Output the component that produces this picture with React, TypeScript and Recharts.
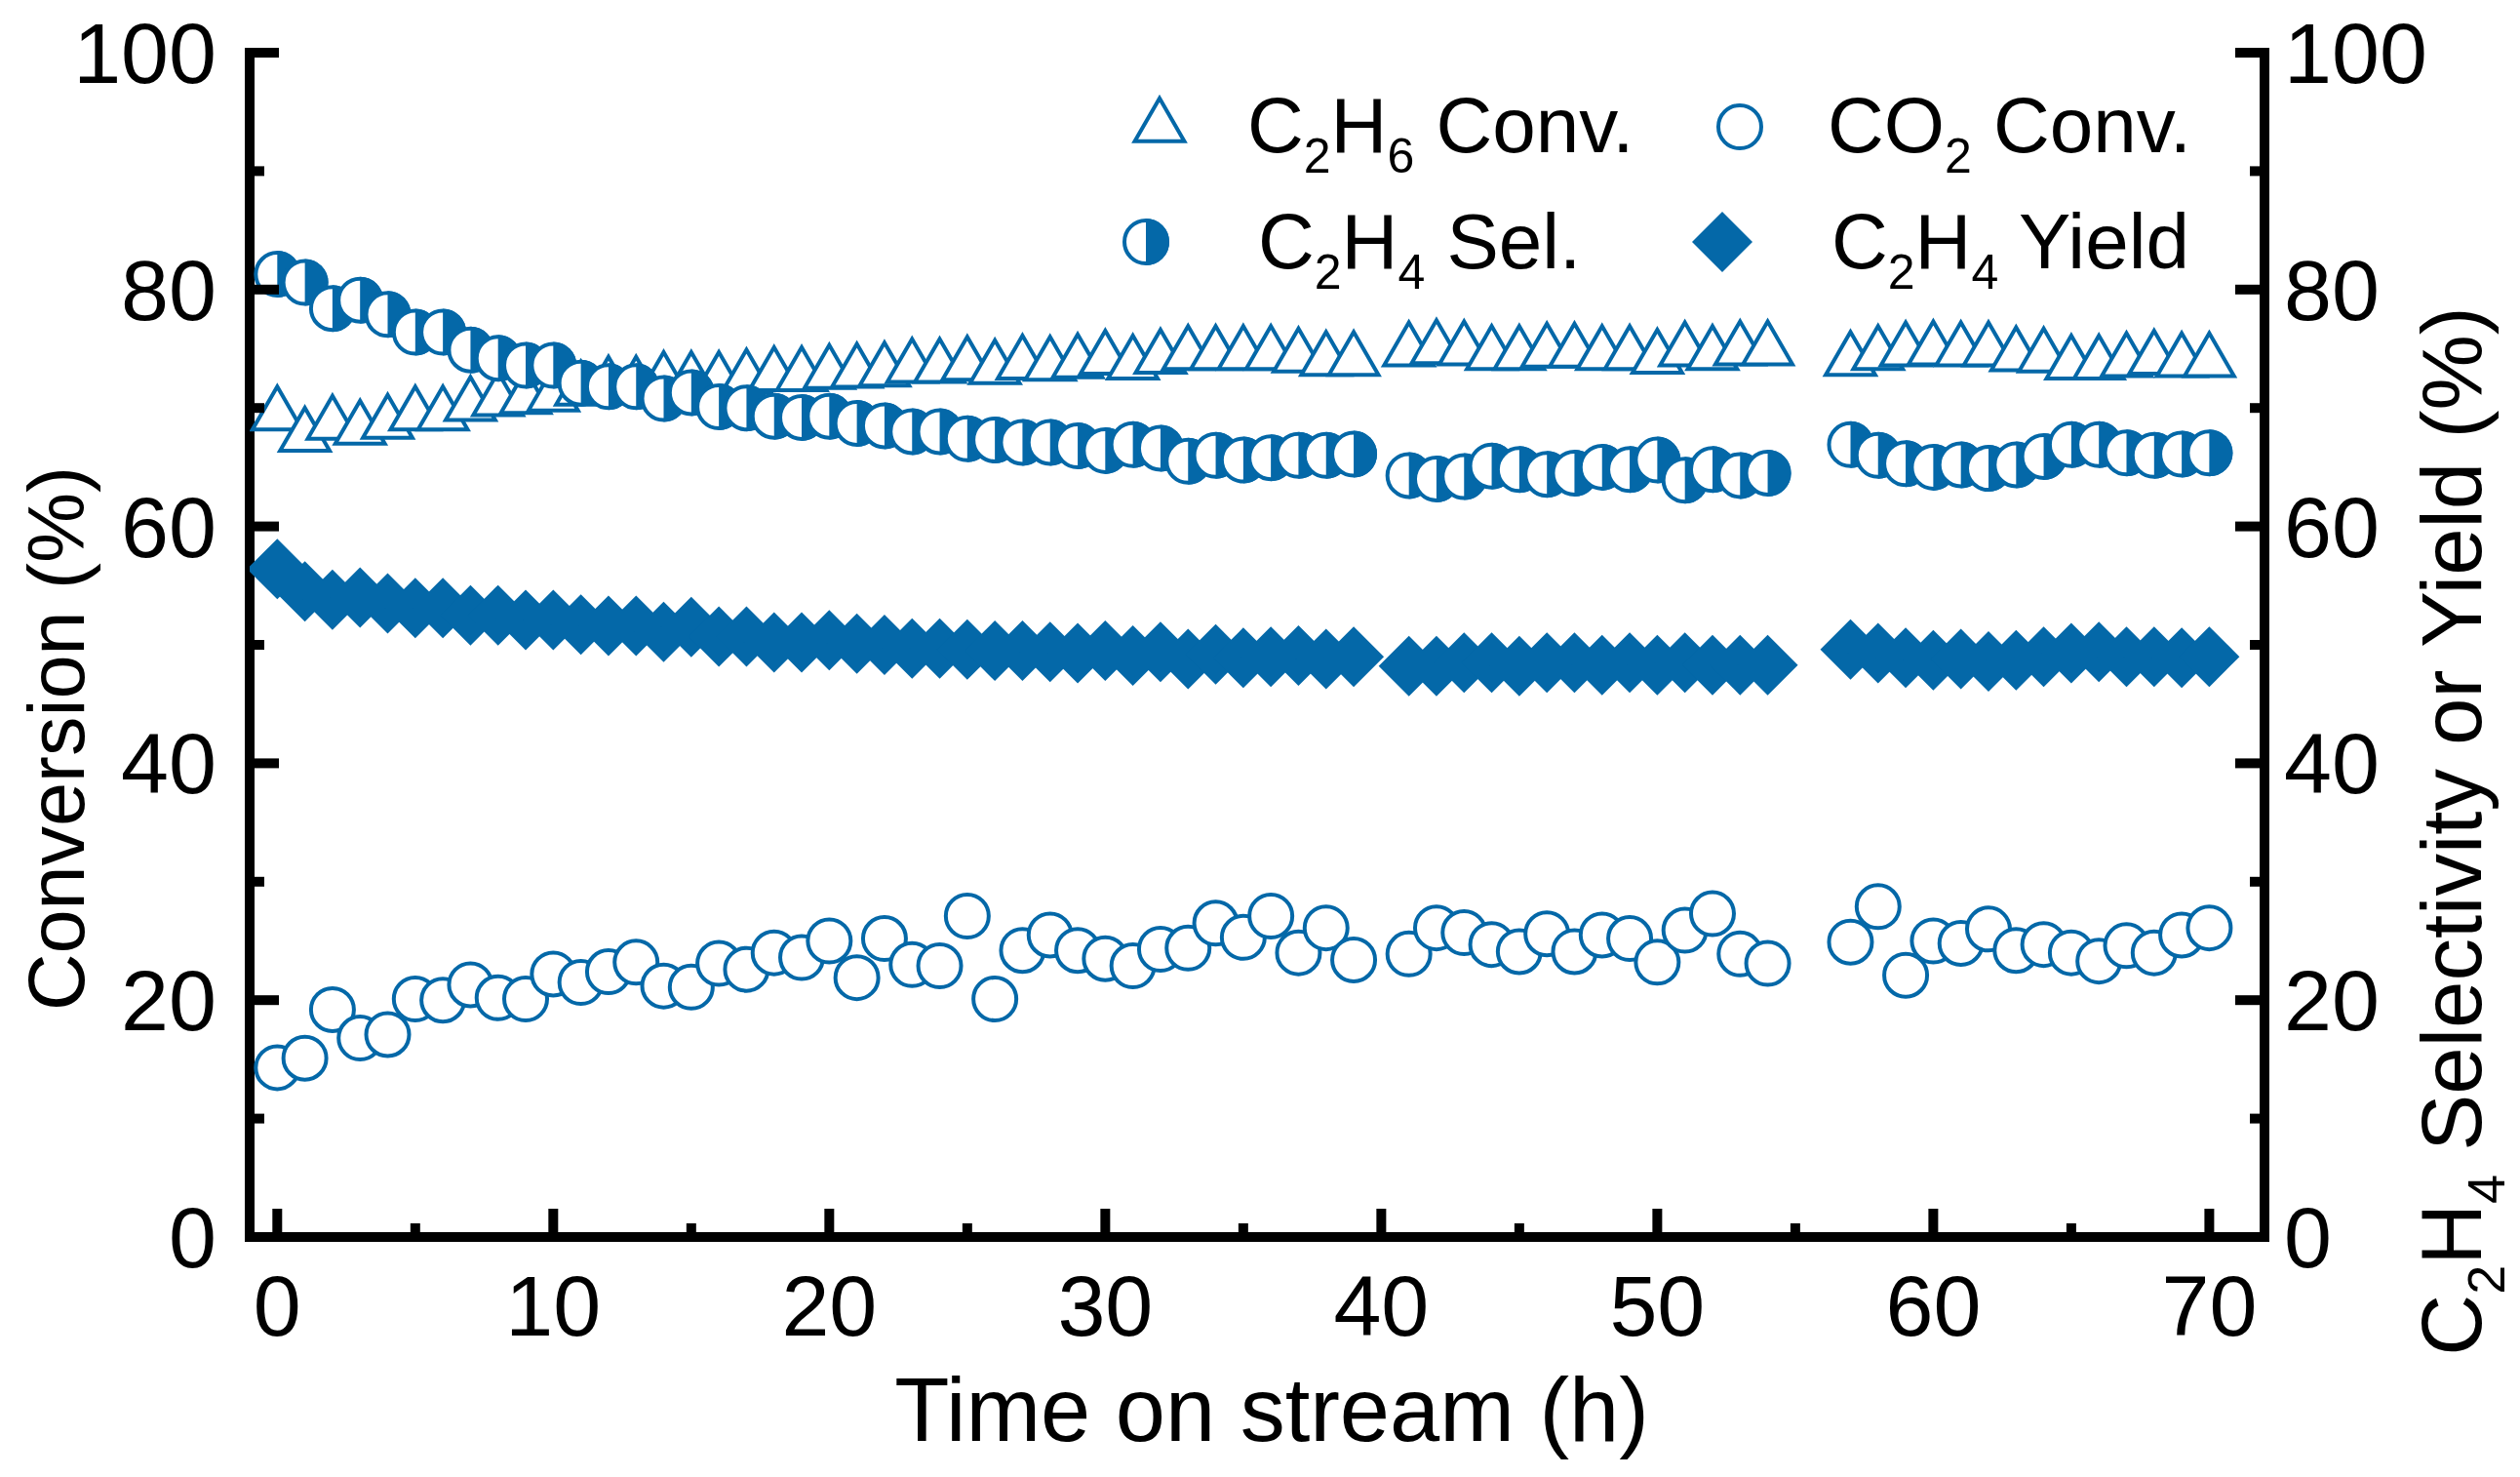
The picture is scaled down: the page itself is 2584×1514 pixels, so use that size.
import React from 'react';
import { ScatterChart, Scatter, XAxis, YAxis } from 'recharts';

// ---------- data ----------
const hours = [
  0, 1, 2, 3, 4, 5, 6, 7, 8, 9,
  10, 11, 12, 13, 14, 15, 16, 17, 18, 19,
  20, 21, 22, 23, 24, 25, 26, 27, 28, 29,
  30, 31, 32, 33, 34, 35, 36, 37, 38, 39,
  41, 42, 43, 44, 45, 46, 47, 48, 49, 50, 51, 52, 53, 54,
  57, 58, 59, 60, 61, 62, 63, 64, 65, 66, 67, 68, 69, 70,
];

const c2h6Conv = [
  69.4, 67.6, 68.6, 68.2, 68.7, 69.4, 69.4, 70.2, 70.6, 70.8,
  71.0, 71.5, 71.9, 71.9, 72.3, 72.3, 72.3, 72.5, 72.7, 72.7,
  72.9, 73.0, 73.1, 73.4, 73.4, 73.6, 73.3, 73.7, 73.6, 73.8,
  74.1, 73.7, 74.2, 74.5, 74.5, 74.5, 74.5, 74.3, 74.0, 74.0,
  74.8, 75.0, 74.9, 74.5, 74.5, 74.7, 74.7, 74.5, 74.5, 74.2, 74.8, 74.5, 74.9, 74.9,
  74.0, 74.5, 74.8, 74.9, 74.8, 74.8, 74.4, 74.3, 73.7, 73.7, 73.9, 74.1, 73.9, 73.9,
];

const co2Conv = [
  14.3, 15.1, 19.2, 16.8, 17.1, 20.1, 20.0, 21.3, 20.2, 20.1,
  22.2, 21.5, 22.4, 23.2, 21.2, 21.1, 23.1, 22.6, 24.0, 23.6,
  25.0, 21.9, 25.2, 23.0, 22.9, 27.1, 20.1, 24.2, 25.5, 24.2,
  23.5, 22.9, 24.3, 24.4, 26.5, 25.3, 27.1, 24.0, 26.1, 23.4,
  23.9, 26.1, 25.7, 24.7, 24.1, 25.6, 24.1, 25.5, 25.2, 23.2, 25.9, 27.3, 23.9, 23.1,
  24.9, 27.9, 22.1, 25.0, 24.8, 26.0, 24.2, 24.7, 24.0, 23.3, 24.6, 24.0, 25.5, 26.1,
];

const c2h4Sel = [
  81.3, 80.6, 78.4, 79.1, 77.9, 76.4, 76.4, 74.9, 74.2, 73.6,
  73.6, 72.1, 71.8, 71.8, 70.8, 71.3, 70.1, 70.0, 69.3, 69.2,
  69.3, 68.7, 68.5, 68.0, 68.0, 67.4, 67.3, 67.1, 67.1, 66.8,
  66.4, 66.9, 66.6, 65.5, 66.0, 65.6, 65.8, 66.0, 66.0, 66.1,
  64.3, 64.0, 64.2, 65.1, 64.8, 64.4, 64.5, 65.0, 64.8, 65.6, 63.9, 64.8, 64.3, 64.5,
  66.9, 66.0, 65.3, 65.0, 65.2, 64.9, 65.2, 65.9, 66.9, 66.9, 66.2, 66.0, 66.1, 66.2,
];

const c2h4Yield = [
  56.4, 54.5, 53.8, 54.0, 53.5, 53.1, 53.1, 52.5, 52.5, 52.1,
  52.1, 51.7, 51.6, 51.6, 51.1, 51.5, 50.7, 50.7, 50.2, 50.2,
  50.4, 50.1, 50.0, 49.7, 49.7, 49.6, 49.5, 49.5, 49.4, 49.3,
  49.5, 49.1, 49.4, 48.8, 49.2, 48.9, 49.0, 49.1, 48.8, 49.0,
  48.2, 48.2, 48.5, 48.5, 48.2, 48.5, 48.5, 48.3, 48.5, 48.3, 48.5, 48.3, 48.3, 48.3,
  49.6, 49.3, 48.9, 48.7, 48.8, 48.6, 48.7, 49.0, 49.3, 49.4, 49.0, 49.0, 48.9, 49.0,
];

const xTicks = [0, 5, 10, 15, 20, 25, 30, 35, 40, 45, 50, 55, 60, 65, 70];
const yTicks = [0, 10, 20, 30, 40, 50, 60, 70, 80, 90, 100];

const toPoints = (vals: number[]) => hours.map((h, i) => ({ x: h, y: vals[i] }));
const c2h6Data = toPoints(c2h6Conv);
const co2Data = toPoints(co2Conv);
const selData = toPoints(c2h4Sel);
const yieldData = toPoints(c2h4Yield);

// ---------- style ----------
const BLUE = '#0468A8';
const FONT = '"Liberation Sans", Arial, Helvetica, sans-serif';
const W = 2584;
const H = 1514;

// ---------- marker shapes ----------
const TRI_H = 44;
const TRI_S = 50.8;
const CIRC_R = 22;
const DIA = 31;

const Triangle = ({ cx, cy }: any) => (
  <path
    d={`M${cx},${cy - (2 * TRI_H) / 3} L${cx + TRI_S / 2},${cy + TRI_H / 3} L${cx - TRI_S / 2},${cy + TRI_H / 3} Z`}
    fill="#fff"
    stroke={BLUE}
    strokeWidth={4}
    strokeLinejoin="miter"
  />
);

const OpenCircle = ({ cx, cy }: any) => (
  <circle cx={cx} cy={cy} r={CIRC_R} fill="#fff" stroke={BLUE} strokeWidth={4} />
);

const HalfCircle = ({ cx, cy }: any) => (
  <g>
    <circle cx={cx} cy={cy} r={CIRC_R} fill="#fff" stroke={BLUE} strokeWidth={4} />
    <path
      d={`M${cx},${cy - CIRC_R - 2} A${CIRC_R + 2},${CIRC_R + 2} 0 0 1 ${cx},${cy + CIRC_R + 2} Z`}
      fill={BLUE}
    />
  </g>
);

const Diamond = ({ cx, cy }: any) => (
  <path d={`M${cx},${cy - DIA} L${cx + DIA},${cy} L${cx},${cy + DIA} L${cx - DIA},${cy} Z`} fill={BLUE} />
);

// ---------- ticks ----------
const TICK_W = 10;

const XTick = (props: any) => {
  const { x, y, payload } = props;
  const v = payload.value;
  const major = v % 10 === 0;
  return (
    <g>
      <line x1={x} x2={x} y1={y} y2={y - (major ? 29 : 14)} stroke="#000" strokeWidth={TICK_W} />
      {major && (
        <text x={x} y={y + 101} textAnchor="middle" fontSize={88} fontFamily={FONT} fill="#000">
          {v}
        </text>
      )}
    </g>
  );
};

const LeftTick = (props: any) => {
  const { x, y, payload } = props;
  const v = payload.value;
  const major = v % 20 === 0;
  return (
    <g>
      <line x1={x} x2={x + (major ? 30 : 15)} y1={y} y2={y} stroke="#000" strokeWidth={TICK_W} />
      {major && (
        <text x={x - 34} y={y + 31} textAnchor="end" fontSize={88} fontFamily={FONT} fill="#000">
          {v}
        </text>
      )}
    </g>
  );
};

const RightTick = (props: any) => {
  const { x, y, payload } = props;
  const v = payload.value;
  const major = v % 20 === 0;
  return (
    <g>
      <line x1={x} x2={x - (major ? 30 : 15)} y1={y} y2={y} stroke="#000" strokeWidth={TICK_W} />
      {major && (
        <text x={x + 20} y={y + 31} textAnchor="start" fontSize={88} fontFamily={FONT} fill="#000">
          {v}
        </text>
      )}
    </g>
  );
};

const axisLineStyle = { stroke: '#000', strokeWidth: 10, strokeLinecap: 'square' as const };

// ---------- legend / formula text ----------
const LEG_FONT = 80;
const LEG_SUB = 50;
const LEG_DY = 21;

const Formula = ({ parts, x, y, size, sub, dy, anchor }: any) => {
  let shifted = false;
  return (
    <text x={x} y={y} fontSize={size} fontFamily={FONT} fill="#000" textAnchor={anchor || 'start'}>
      {parts.map((p: [string, boolean], i: number) => {
        let d = 0;
        if (p[1] && !shifted) {
          d = dy;
          shifted = true;
        } else if (!p[1] && shifted) {
          d = -dy;
          shifted = false;
        }
        return (
          <tspan key={i} dy={d} fontSize={p[1] ? sub : size}>
            {p[0]}
          </tspan>
        );
      })}
    </text>
  );
};

const legendC2H6: [string, boolean][] = [['C', false], ['2', true], ['H', false], ['6', true], [' Conv.', false]];
const legendCO2: [string, boolean][] = [['CO', false], ['2', true], [' Conv.', false]];
const legendSel: [string, boolean][] = [['C', false], ['2', true], ['H', false], ['4', true], [' Sel.', false]];
const legendYield: [string, boolean][] = [['C', false], ['2', true], ['H', false], ['4', true], [' Yield', false]];
const rightTitle: [string, boolean][] = [['C', false], ['2', true], ['H', false], ['4', true], [' Selectivity or Yield (%)', false]];

export default function App() {
  return (
    <div style={{ position: 'absolute', left: 0, top: 0, width: W, height: H, background: '#fff' }}>
      <ScatterChart width={W} height={H} margin={{ top: 54, right: 62, bottom: 86, left: 56 }}>
        <XAxis
          xAxisId="bottom"
          dataKey="x"
          type="number"
          domain={[-1, 72]}
          allowDataOverflow
          ticks={xTicks}
          interval={0}
          height={160}
          tickSize={0}
          tickMargin={0}
          tickLine={false}
          axisLine={axisLineStyle}
          tick={<XTick />}
        />
        <XAxis
          xAxisId="top"
          orientation="top"
          type="number"
          domain={[-1, 72]}
          allowDataOverflow
          height={0}
          tick={false}
          tickLine={false}
          axisLine={axisLineStyle}
        />
        <YAxis
          yAxisId="left"
          dataKey="y"
          type="number"
          domain={[0, 100]}
          allowDataOverflow
          ticks={yTicks}
          interval={0}
          width={200}
          tickSize={0}
          tickMargin={0}
          tickLine={false}
          axisLine={axisLineStyle}
          tick={<LeftTick />}
        />
        <YAxis
          yAxisId="right"
          orientation="right"
          dataKey="y"
          type="number"
          domain={[0, 100]}
          allowDataOverflow
          ticks={yTicks}
          interval={0}
          width={200}
          tickSize={0}
          tickMargin={0}
          tickLine={false}
          axisLine={axisLineStyle}
          tick={<RightTick />}
        />
        <Scatter name="C2H6 Conv." data={c2h6Data} xAxisId="bottom" yAxisId="left" shape={Triangle} isAnimationActive={false} />
        <Scatter name="CO2 Conv." data={co2Data} xAxisId="bottom" yAxisId="left" shape={OpenCircle} isAnimationActive={false} />
        <Scatter name="C2H4 Sel." data={selData} xAxisId="bottom" yAxisId="right" shape={HalfCircle} isAnimationActive={false} />
        <Scatter name="C2H4 Yield" data={yieldData} xAxisId="bottom" yAxisId="right" shape={Diamond} isAnimationActive={false} />

        {/* axis titles */}
        <text x={1304} y={1477} textAnchor="middle" fontSize={92} fontFamily={FONT} fill="#000">
          Time on stream (h)
        </text>
        <text transform="translate(86,757) rotate(-90)" textAnchor="middle" fontSize={81} fontFamily={FONT} fill="#000">
          Conversion (%)
        </text>
        <g transform="translate(2544,852) rotate(-90)">
          <Formula parts={rightTitle} x={0} y={0} size={87} sub={54} dy={24} anchor="middle" />
        </g>

        {/* legend */}
        <g>
          <Triangle cx={1189} cy={130} />
          <Formula parts={legendC2H6} x={1279} y={156} size={LEG_FONT} sub={LEG_SUB} dy={LEG_DY} />
          <OpenCircle cx={1784} cy={130} />
          <Formula parts={legendCO2} x={1874} y={156} size={LEG_FONT} sub={LEG_SUB} dy={LEG_DY} />
          <HalfCircle cx={1175} cy={248} />
          <Formula parts={legendSel} x={1290} y={275} size={LEG_FONT} sub={LEG_SUB} dy={LEG_DY} />
          <Diamond cx={1766} cy={248} />
          <Formula parts={legendYield} x={1878} y={275} size={LEG_FONT} sub={LEG_SUB} dy={LEG_DY} />
        </g>
      </ScatterChart>
    </div>
  );
}
